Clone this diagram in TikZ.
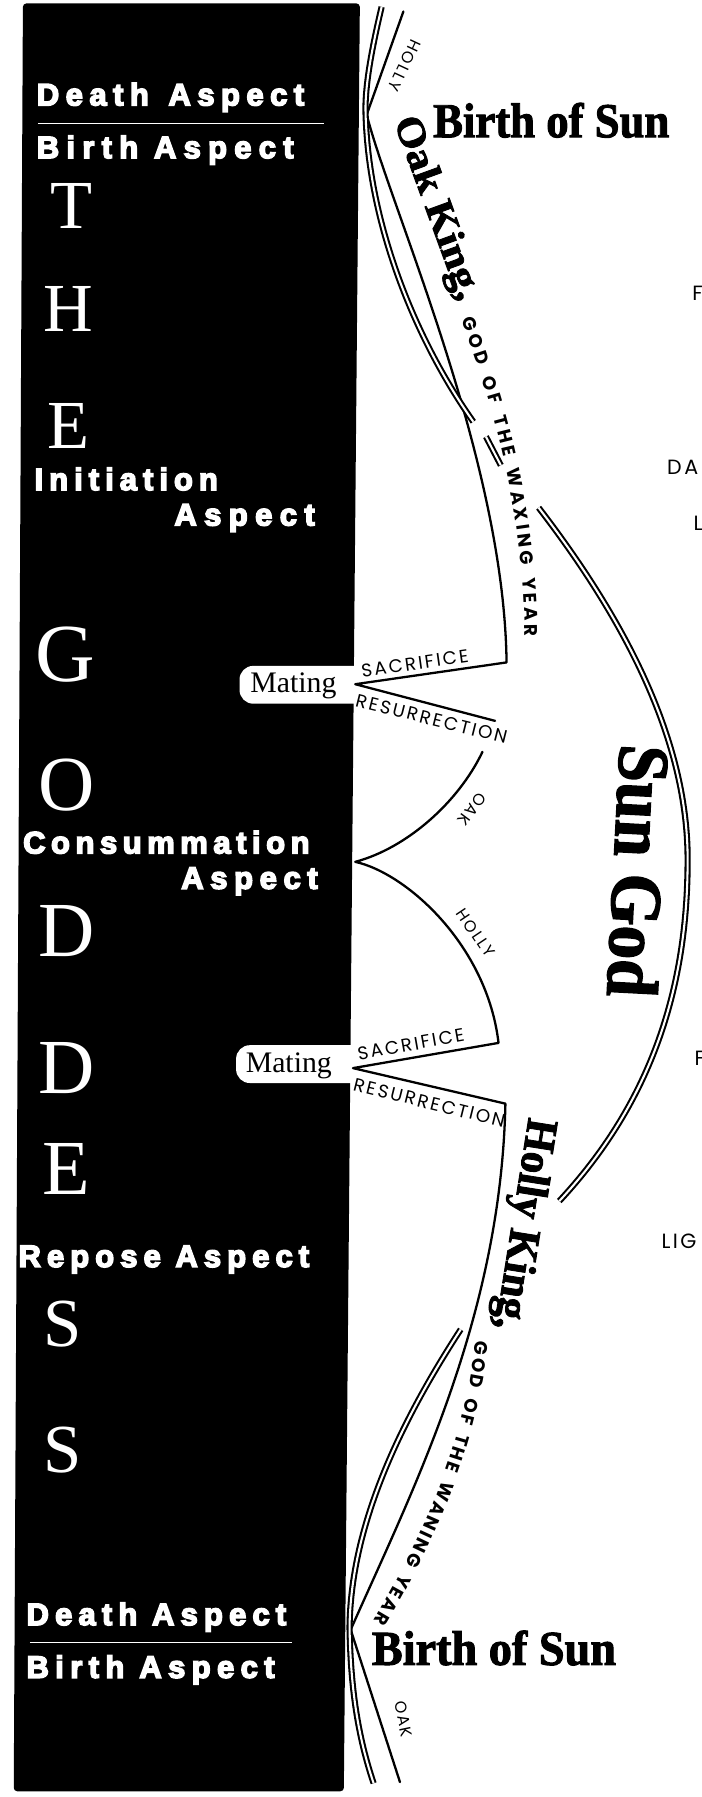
\documentclass[tikz,border=0pt]{standalone}
\usepackage{fontspec}
\usepackage{graphicx}
\usetikzlibrary{decorations.text}
\newfontfamily\aspfont[LetterSpace=22,FakeBold=5]{Liberation Sans}
\newfontfamily\capfont[LetterSpace=12]{Poppins}
\newfontfamily\serfont{Liberation Serif}
\newfontfamily\blfont[FakeBold=2]{Liberation Serif}
\newcommand{\blk}[3]{\resizebox{#1}{#2}{\blfont\bfseries #3}}
\newcommand{\ls}[1]{\addfontfeature{LetterSpace=#1}}
\begin{document}
\begin{tikzpicture}[x=1pt,y=-1pt,
  asp/.style={text=white, font=\aspfont\bfseries\fontsize{27}{27}\selectfont, inner sep=0pt, anchor=west},
  gl/.style={text=white, font=\serfont\fontsize{60}{60}\selectfont, inner sep=0pt},
  sline/.style={line width=2pt, line cap=round, line join=round},
  dline/.style={double, line width=1.8pt, double distance=1.8pt},
  lbl/.style={font=\capfont\fontsize{16}{16}\selectfont, inner sep=0pt},
  edgelbl/.style={font=\capfont\fontsize{18}{18}\selectfont, inner sep=0pt, anchor=west},
  smlbl/.style={font=\capfont\fontsize{14}{14}\selectfont, inner sep=0pt},
  mat/.style={font=\serfont\fontsize{26}{26}\selectfont, inner sep=0pt, anchor=base},
  tab/.style={fill=white, rounded corners=12pt},
]
\useasboundingbox (0,0) rectangle (612,1568);
\fill[white] (0,0) rectangle (612,1568);
% goddess panel
\fill[black, rounded corners=3pt] (20,3) -- (314,3) -- (300,1563) -- (12,1563) -- cycle;
% mating tabs
\fill[tab] (330,581) -- (209,581) -- (209,614) -- (330,614) -- cycle;
\fill[tab] (330,912) -- (206,912) -- (206,945) -- (330,945) -- cycle;
\node[mat] (mat1) at (256,604) {Mating};
\node[mat] (mat2) at (252,936) {Mating};

% aspect texts
\node[asp] (da1) at (32,85) {\ls{21}Death\hspace{4pt} Aspect};
\draw[white, line width=1pt] (33,108) -- (283,108);
\node[asp] (ba1) at (32,131) {\ls{23.5}Birth Aspect};
\node[asp] (ini) at (30,418) {\ls{19.5}Initiation};
\node[asp] (ini2) at (152,452) {\ls{24}Aspect};
\node[asp] (con) at (20,735) {\ls{18}Consummation};
\node[asp] (con2) at (158,769) {\ls{21.5}Aspect};
\node[asp] (rep) at (16,1099) {\ls{19.7}Repose Aspect};
\node[asp] (da2) at (23,1411) {\ls{20}Death Aspect};
\draw[white, line width=1pt] (26,1433) -- (255,1433);
\node[asp] (ba2) at (23,1457) {\ls{20.7}Birth Aspect};

% THE GODDESS
\node[gl] (gT) at (62,180) {T};
\node[gl] (gH) at (60,270) {H};
\node[gl] (gE) at (60,372) {E};
\node[gl, font=\serfont\fontsize{72}{72}\selectfont] (gG) at (57,571) {G};
\node[gl, font=\serfont\fontsize{68}{68}\selectfont] (gO) at (58,685) {O};
\node[gl, font=\serfont\fontsize{68}{68}\selectfont] (gD1) at (58,812) {D};
\node[gl, font=\serfont\fontsize{68}{68}\selectfont] (gD2) at (58,932) {D};
\node[gl, font=\serfont\fontsize{68}{68}\selectfont] (gE2) at (58,1020) {E};
\node[gl] (gS1) at (55,1155) {S};
\node[gl] (gS2) at (55,1265) {S};

% key points
\coordinate (top1) at (320,100);
\coordinate (hollytop) at (352,10);
\coordinate (v1) at (310,597);
\coordinate (s1) at (442,578);
\coordinate (r1) at (432,629);
\coordinate (o1) at (421,656);
\coordinate (c1) at (310,752);
\coordinate (h2) at (435,910);
\coordinate (v2) at (308,932);
\coordinate (r2) at (441,963);
\coordinate (bot1) at (306,1422);
\coordinate (oakend) at (349,1555);

% single lines
\draw[sline] (hollytop) -- (top1);
\draw[sline] (top1) .. controls (340,180) and (440,400) .. (s1) -- (v1) -- (r1);
\draw[sline] (o1) .. controls (400,700) and (355,740) .. (c1)
   .. controls (355,762) and (425,825) .. (h2) -- (v2) -- (r2)
   .. controls (437,1150) and (360,1300) .. (bot1) -- (oakend);

% double lines (sun path)
\draw[dline] (333,6) .. controls (325,40) and (318,75) .. (319,100)
   .. controls (322,200) and (365,300) .. (413,368);
\draw[dline] (424,381) -- (437,406);
\draw[dline] (470,443) .. controls (560,560) and (600,660) .. (600,750)
   .. controls (600,860) and (570,960) .. (488,1048);
\draw[dline] (402,1160) .. controls (350,1240) and (306,1330) .. (305,1420)
   .. controls (306,1480) and (314,1520) .. (326,1556);

% title texts
\node[inner sep=0pt] (bos1) at (481,105) {\blk{206pt}{30pt}{Birth of Sun}};
\node[inner sep=0pt] (bos2) at (431,1438) {\blk{213pt}{30pt}{Birth of Sun}};
\node[inner sep=0pt, rotate=-70] (oakk) at (380,182) {\blk{168pt}{24pt}{Oak King,}};
\node[inner sep=0pt, rotate=-99] (hollyk) at (456,1068) {\blk{186pt}{27pt}{Holly King,}};
\node[inner sep=0pt, rotate=-93] (sungod) at (557,760) {\blk{220pt}{44pt}{Sun God}};

% small labels
\node[smlbl, rotate=-115] (hollyT) at (353,57) {HOLLY};
\node[lbl, anchor=base west, rotate=8] (sac1) at (316,591) {SACRIFICE};
\node[lbl, anchor=north west, rotate=-14] (res1) at (312,605) {RESURRECTION};
\node[smlbl, rotate=-127] (oakA) at (412,706) {OAK};
\node[smlbl, rotate=-56] (hollyA) at (415,814) {HOLLY};
\node[lbl, anchor=base west, rotate=10] (sac2) at (313,925) {SACRIFICE};
\node[lbl, anchor=north west, rotate=-14] (res2) at (310,940) {RESURRECTION};
\node[smlbl, rotate=-78] (oakB) at (352,1500) {OAK};

% curved labels
\path[decorate, decoration={text along path, text align=fit to path,
   text={|\capfont\bfseries\fontsize{16}{16}\selectfont|GOD OF THE WAXING YEAR}}]
   (403,279) .. controls (428,348) and (457,440) .. (458,555);
\path[decorate, decoration={text along path, text align=fit to path,
   text={|\capfont\bfseries\fontsize{16}{16}\selectfont|GOD OF THE WANING YEAR}}]
   (415,1170) .. controls (405,1260) and (370,1340) .. (326,1414);

% cut-off labels at the right edge
\node[edgelbl] (eF1) at (604,256) {F};
\node[edgelbl] (eDA) at (582,408) {DA};
\node[edgelbl] (eL) at (605,457) {L};
\node[edgelbl] (eF2) at (606,923) {F};
\node[edgelbl] (eLIG) at (577,1083) {LIG};
\end{tikzpicture}
\end{document}
